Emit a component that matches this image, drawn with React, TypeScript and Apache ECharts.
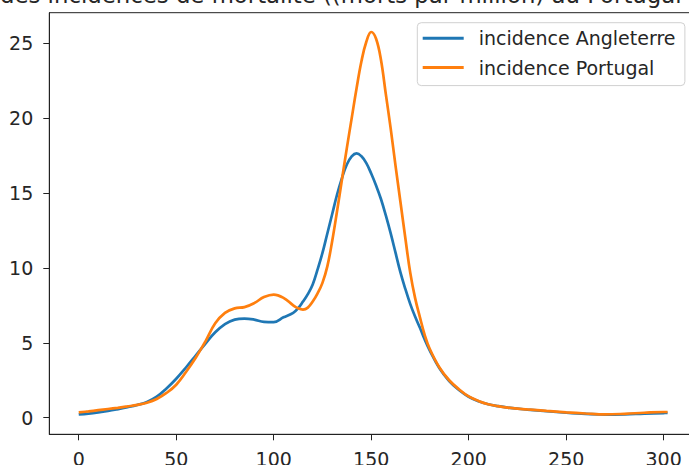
import React, { useEffect, useRef } from "react";
import * as echarts from "echarts";

const days = [
  0, 5, 10, 15, 20, 25, 30, 35, 40, 45, 50, 55, 60, 65, 70, 75, 80, 85, 90, 95,
  100, 105, 110, 112.5, 115, 117.5,
  120, 122.5, 125, 127.5, 130, 132.5, 135, 137.5, 140, 142.5, 145, 147.5, 150,
  152.5, 155, 157.5, 160, 162.5, 165, 167.5, 170, 172.5, 175, 177.5, 180,
  185, 190, 195, 200, 205, 210, 215, 220,
  230, 240, 250, 260, 270, 280, 290, 300, 302,
];

const angleterre = [
  0.22, 0.27, 0.35, 0.45, 0.57, 0.7, 0.85, 1.05, 1.4, 1.95, 2.6, 3.35, 4.15, 4.95,
  5.7, 6.25, 6.55, 6.62, 6.55, 6.4, 6.38, 6.7, 7.0, 7.3, 7.75, 8.25,
  8.9, 9.9, 11.0, 12.3, 13.6, 14.9, 16.0, 16.9, 17.45, 17.65, 17.45, 17.0, 16.3,
  15.5, 14.6, 13.5, 12.3, 11.0, 9.7, 8.6, 7.6, 6.75, 6.0, 5.2, 4.5,
  3.3, 2.45, 1.85, 1.4, 1.1, 0.9, 0.77, 0.67,
  0.54, 0.43, 0.33, 0.25, 0.2, 0.22, 0.27, 0.31, 0.32,
];

const portugal = [
  0.35, 0.42, 0.5, 0.58, 0.66, 0.75, 0.85, 1.0, 1.25, 1.65, 2.2, 3.05, 4.0, 5.1,
  6.3, 7.0, 7.3, 7.38, 7.65, 8.05, 8.22, 8.0, 7.5, 7.3, 7.22, 7.35,
  7.75, 8.3, 9.0, 10.1, 11.8, 13.8, 15.9, 18.0, 20.0, 22.0, 23.8, 25.1, 25.75,
  25.3, 23.9, 21.6, 19.3, 16.8, 14.4, 12.0, 9.7, 8.0, 6.7, 5.5, 4.6,
  3.35, 2.5, 1.9, 1.42, 1.12, 0.9, 0.77, 0.67,
  0.55, 0.45, 0.36, 0.28, 0.22, 0.26, 0.33, 0.38, 0.38,
];

const xTicks = [0, 50, 100, 150, 200, 250, 300];
const yTicks = [0, 5, 10, 15, 20, 25];
const seriesNames = ["incidence Angleterre", "incidence Portugal"];
const titleText = "des incidences de mortalité ((morts par million) au Portugal";

const FONT = "DejaVu Sans";
const INK = "#262626";

export default function App() {
  const ref = useRef<HTMLDivElement>(null);

  useEffect(() => {
    if (!ref.current) return;
    const chart = echarts.init(ref.current, null, { renderer: "svg" });
    const pairs = (vals: number[]) => days.map((d, i) => [d, vals[i]]);

    chart.setOption({
      animation: false,
      backgroundColor: "#ffffff",
      grid: {
        show: true,
        left: 49.3,
        top: 12.7,
        width: 647.7,
        height: 421.6,
        outerBoundsMode: "none",
        borderColor: "#222",
        borderWidth: 1,
        containLabel: false,
      },
      xAxis: {
        type: "value",
        min: -15.1,
        max: 317.1,
        axisLine: { show: true, onZero: false, lineStyle: { color: "#222", width: 1 } },
        axisTick: {
          show: true,
          length: 6,
          customValues: xTicks,
          lineStyle: { color: "#222", width: 1 },
        },
        axisLabel: {
          customValues: xTicks,
          margin: 15,
          fontSize: 19,
          fontFamily: FONT,
          color: INK,
        },
        splitLine: { show: false },
      },
      yAxis: {
        type: "value",
        min: -1.11,
        max: 27.04,
        axisLine: { show: true, onZero: false, lineStyle: { color: "#222", width: 1 } },
        axisTick: {
          show: true,
          length: 6,
          customValues: yTicks,
          lineStyle: { color: "#222", width: 1 },
        },
        axisLabel: {
          customValues: yTicks,
          margin: 16,
          fontSize: 19,
          fontFamily: FONT,
          color: INK,
        },
        splitLine: { show: false },
      },
      legend: {
        orient: "vertical",
        left: 417.3,
        top: 22.7,
        padding: [4.6, 9.4, 7, 5.4],
        itemGap: 7.3,
        itemWidth: 41,
        itemHeight: 3,
        icon: "rect",
        borderColor: "#d0d0d0",
        borderWidth: 1,
        borderRadius: 4,
        backgroundColor: "rgba(255,255,255,0.8)",
        textStyle: {
          fontSize: 19,
          lineHeight: 22,
          fontFamily: FONT,
          color: INK,
          padding: [0, 0, 0, 10],
        },
        data: seriesNames,
      },
      graphic: [
        {
          type: "text",
          left: 0,
          top: -17,
          z: 100,
          style: {
            text: titleText,
            fontSize: 22.8,
            fontFamily: FONT,
            fill: INK,
          },
        },
      ],
      series: [
        {
          name: seriesNames[0],
          type: "line",
          data: pairs(angleterre),
          showSymbol: false,
          smooth: 0.4,
          color: "#1f77b4",
          lineStyle: { width: 2.7, color: "#1f77b4" },
        },
        {
          name: seriesNames[1],
          type: "line",
          data: pairs(portugal),
          showSymbol: false,
          smooth: 0.4,
          color: "#ff7f0e",
          lineStyle: { width: 2.7, color: "#ff7f0e" },
        },
      ],
    });

    return () => chart.dispose();
  }, []);

  return (
    <div
      ref={ref}
      style={{ position: "absolute", left: 0, top: 0, width: 689, height: 465 }}
    />
  );
}
